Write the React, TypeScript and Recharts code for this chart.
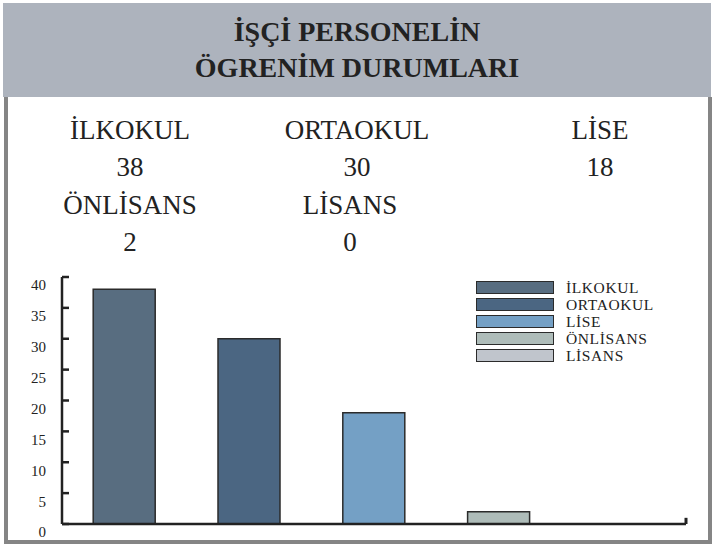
import { BarChart, Bar, XAxis, YAxis, Cell, Legend, ReferenceLine } from 'recharts';

const categories = ['İLKOKUL', 'ORTAOKUL', 'LİSE', 'ÖNLİSANS', 'LİSANS'];
const counts = [38, 30, 18, 2, 0];
const yTicks = [0, 5, 10, 15, 20, 25, 30, 35, 40];
const titleLines = ['İŞÇİ PERSONELİN', 'ÖGRENİM DURUMLARI'];

const barColors = ['#586d80', '#4b6682', '#74a0c5', '#aebcb9', '#c0c5cc'];
const serif = '"Times New Roman", Times, Tinos, "Liberation Serif", "DejaVu Serif", "Noto Serif", serif';

const chartData = categories.map((name, i) => ({ name, count: counts[i] }));

// summary text blocks above the chart (label + value), laid out like the original
const summaryPos = [
  { left: 130, top: 112 },
  { left: 357, top: 112 },
  { left: 600, top: 112 },
  { left: 130, top: 187 },
  { left: 350, top: 187 },
];

function YTick(props: any) {
  const { x, y, payload } = props;
  return (
    <g>
      <line x1={x + 8} x2={x + 15} y1={y} y2={y} stroke="#222" strokeWidth={2.5} />
      <text x={x - 8} y={y + 10} textAnchor="end" dominantBaseline="middle" style={{ fontFamily: serif }} fontSize={15} fill="#222">
        {payload.value}
      </text>
    </g>
  );
}

function LegendBox() {
  return (
    <div style={{ fontFamily: serif, fontSize: 15.5, color: '#222' }}>
      {categories.map((name, i) => (
        <div key={name} style={{ display: 'flex', alignItems: 'center', height: 17 }}>
          <div style={{ width: 76, height: 11, background: barColors[i], border: '1.5px solid #2b2b2b' }} />
          <span style={{ marginLeft: 12, lineHeight: '17px', letterSpacing: 0.6 }}>{name}</span>
        </div>
      ))}
    </div>
  );
}

export default function App() {
  return (
    <div style={{ position: 'absolute', left: 0, top: 0, width: 714, height: 550, background: '#fff', fontFamily: serif }}>
      <div
        style={{
          position: 'absolute', left: 3, top: 3, width: 708, height: 94, background: '#adb3bd',
          display: 'flex', flexDirection: 'column', justifyContent: 'center', alignItems: 'center',
        }}
      >
        {titleLines.map((t) => (
          <div key={t} style={{ fontWeight: 'bold', fontSize: 28, lineHeight: '36px', color: '#222' }}>
            {t}
          </div>
        ))}
      </div>
      <div
        style={{
          position: 'absolute', left: 4, top: 97, width: 700, height: 443,
          borderLeft: '4px solid #858585', borderRight: '4px solid #858585', borderBottom: '4px solid #858585',
        }}
      />
      {categories.map((name, i) => (
        <div
          key={name}
          style={{
            position: 'absolute', left: summaryPos[i].left - 100, top: summaryPos[i].top, width: 200,
            textAlign: 'center', fontSize: 27, lineHeight: '37px', color: '#222',
          }}
        >
          <div>{name}</div>
          <div>{counts[i]}</div>
        </div>
      ))}
      <div style={{ position: 'absolute', left: 0, top: 0 }}>
        <BarChart width={714} height={550} data={chartData} margin={{ top: 277, right: 28, left: 0, bottom: 25 }} barCategoryGap="25%">
          <XAxis dataKey="name" tick={false} tickLine={false} height={1} axisLine={{ stroke: '#222', strokeWidth: 2.5 }} />
          <YAxis
            width={62}
            domain={[0, 40]}
            ticks={yTicks}
            interval={0}
            tickLine={false}
            tick={<YTick />}
            axisLine={{ stroke: '#222', strokeWidth: 2.5 }}
          />
          <ReferenceLine
            segment={[{ x: categories[4], y: 0 }, { x: categories[4], y: 1 }]}
            position="end"
            stroke="#222"
            strokeWidth={3}
          />
          <Legend
            layout="vertical"
            align="center"
            verticalAlign="middle"
            wrapperStyle={{ left: 476, top: 279, width: 220 }}
            content={() => <LegendBox />}
          />
          <Bar dataKey="count" stroke="#2b2b2b" strokeWidth={1.5} isAnimationActive={false}>
            {chartData.map((d, i) => (
              <Cell key={d.name} fill={barColors[i]} />
            ))}
          </Bar>
        </BarChart>
      </div>
    </div>
  );
}
